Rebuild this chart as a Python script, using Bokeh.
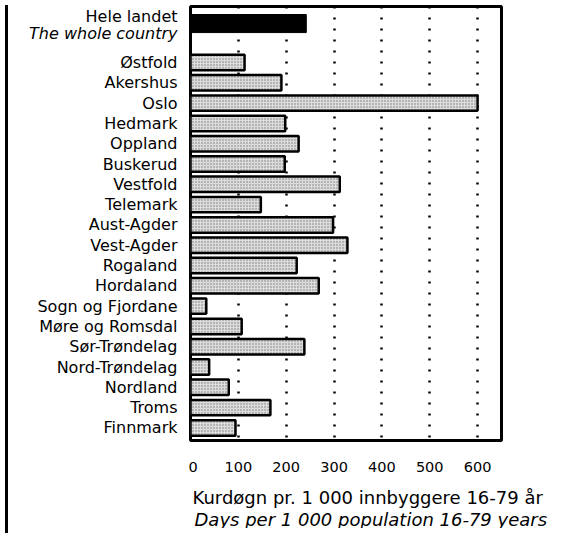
from bokeh.plotting import figure
from bokeh.models import Range1d, FixedTicker, Div, Title
from bokeh.layouts import row
from bokeh.core.properties import value
from bokeh.embed import file_html
from bokeh.resources import INLINE

national_label = "Hele landet"
national_label_en = "The whole country"
national_value = 242

regions = ["Østfold", "Akershus", "Oslo", "Hedmark", "Oppland", "Buskerud",
           "Vestfold", "Telemark", "Aust-Agder", "Vest-Agder", "Rogaland",
           "Hordaland", "Sogn og Fjordane", "Møre og Romsdal", "Sør-Trøndelag",
           "Nord-Trøndelag", "Nordland", "Troms", "Finnmark"]
values = [113, 190, 600, 198, 226, 197, 312, 147, 298, 328, 222, 268, 33,
          107, 238, 39, 80, 167, 94]

x_ticks = [0, 100, 200, 300, 400, 500, 600]
title_no = "Kurdøgn pr. 1 000 innbyggere 16-79 år"
title_en = "Days per 1 000 population 16-79 years"

FONT = "DejaVu Sans"
ROW_START = 2
ys = [ROW_START + i for i in range(len(regions))]
FRAME_H = 434
TOP = 6
y_range = Range1d(20.62, -0.76)

# ---- label column (left) ----
lab = figure(frame_width=175, frame_height=FRAME_H, output_backend="svg",
             toolbar_location=None, x_range=Range1d(0, 175), y_range=y_range,
             min_border_left=0, min_border_right=0, min_border_top=TOP,
             min_border_bottom=0)
lab.axis.visible = False
lab.grid.visible = False
lab.outline_line_color = None
lab.text(x=164, y=ys, text=regions, text_font=value(FONT),
         text_font_size=value("16px"), text_align="right",
         text_baseline="middle", text_color="black")
lab.text(x=[164], y=[-0.27], text=[national_label], text_font=value(FONT),
         text_font_size=value("16px"), text_align="right",
         text_baseline="middle", text_color="black")
lab.text(x=[164], y=[0.57], text=[national_label_en], text_font=value(FONT),
         text_font_size=value("16px"), text_font_style="italic",
         text_align="right", text_baseline="middle", text_color="black")

# ---- bar chart ----
p = figure(frame_width=311, frame_height=FRAME_H, output_backend="svg",
           toolbar_location=None, x_range=Range1d(0, 650), y_range=y_range,
           min_border_left=2, min_border_right=61, min_border_top=TOP,
           min_border_bottom=88)
p.background_fill_color = "white"
p.border_fill_color = "white"
p.outline_line_color = "black"
p.outline_line_width = 3
p.yaxis.visible = False

p.xgrid.ticker = FixedTicker(ticks=x_ticks[1:])
p.xgrid.grid_line_color = "black"
p.xgrid.grid_line_dash = "2 9"
p.xgrid.grid_line_width = 2.5
p.ygrid.visible = False

p.xaxis.ticker = FixedTicker(ticks=x_ticks)
p.xaxis.axis_line_color = None
p.xaxis.major_tick_line_color = None
p.xaxis.minor_tick_line_color = None
p.xaxis.major_label_text_font = FONT
p.xaxis.major_label_text_font_size = "14.5px"
p.xaxis.major_label_text_color = "black"
p.xaxis.major_label_standoff = 15

p.hbar(y=ys, left=0, right=values, height=0.76, fill_color="#dcdcdc",
       line_color="black", line_width=2.5, hatch_pattern="dot",
       hatch_scale=3, hatch_weight=1.2, hatch_color="black", hatch_alpha=0.45)
p.hbar(y=[0.08], left=0, right=[national_value], height=0.89,
       fill_color="black", line_color="black", line_width=1)

t1 = Title(text=title_no, align="left", offset=2, text_font=FONT,
           text_font_size="18px", text_font_style="normal",
           text_color="black", standoff=20)
t2 = Title(text=title_en, align="left", offset=4, text_font=FONT,
           text_font_size="18px", text_font_style="italic",
           text_color="black", standoff=-24)
p.add_layout(t1, "below")
p.add_layout(t2, "below")

edge = Div(width=3, height=528, styles={"background-color": "black"})
layout = row(edge, lab, p, spacing=0)

open("out.html", "w").write(file_html(layout, INLINE))
